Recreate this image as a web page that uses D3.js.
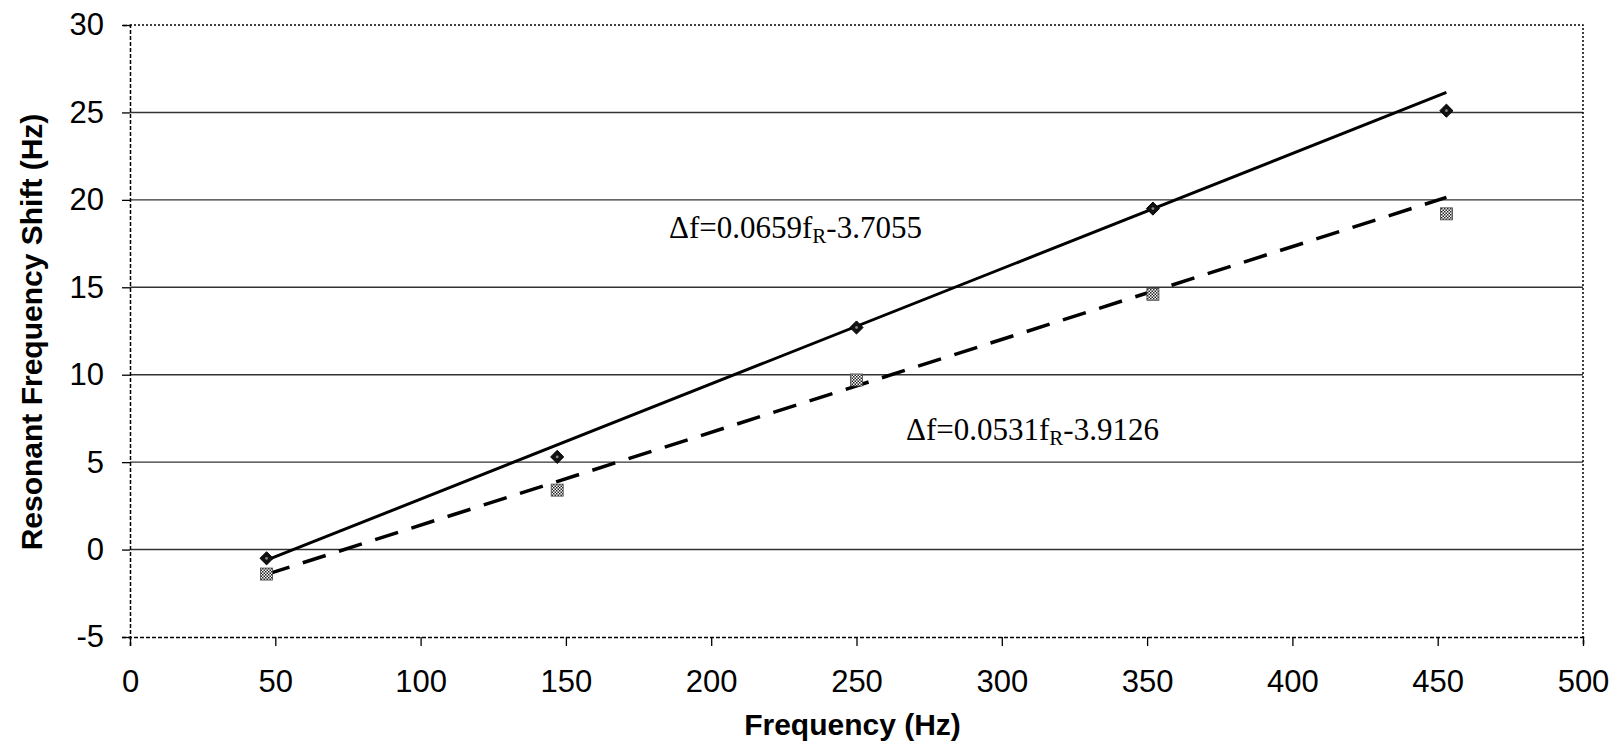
<!DOCTYPE html>
<html>
<head>
<meta charset="utf-8">
<script src="https://cdn.jsdelivr.net/npm/d3@7"></script>
<style>
  body { margin: 0; background: #fff; }
  .tick text { font-family: "Liberation Sans", Arial, sans-serif; font-size: 31px; fill: #000; }
  .axis-title { font-family: "Liberation Sans", Arial, sans-serif; font-size: 30px; font-weight: bold; }
  .eq { font-family: "Liberation Serif", "Times New Roman", serif; font-size: 31px; }
</style>
</head>
<body>
<svg id="chart" width="1621" height="746"></svg>
<script>
// measured data
const freqs = [47, 147, 250, 352, 453];
const shiftA = [-0.5, 5.3, 12.7, 19.5, 25.1];
const shiftB = [-1.4, 3.4, 9.7, 14.6, 19.2];

// trend line coefficients (slope, intercept) as printed on chart
const trendA = [0.0659, -3.7055];
const trendB = [0.0531, -3.9126];
const trendRange = [47, 453];

const xTicks = [0, 50, 100, 150, 200, 250, 300, 350, 400, 450, 500];
const yTicks = [-5, 0, 5, 10, 15, 20, 25, 30];

const margin = { left: 130, right: 38, top: 25, bottom: 109 };
const width = 1621, height = 746;
const chart_width = width - margin.left - margin.right;
const chart_height = height - margin.top - margin.bottom;

const svg = d3.select("#chart");

const defs = svg.append("defs");
const pat = defs.append("pattern")
  .attr("id", "check")
  .attr("width", 3).attr("height", 3)
  .attr("patternUnits", "userSpaceOnUse");
pat.append("rect").attr("width", 3).attr("height", 3).attr("fill", "#fff");
pat.append("rect").attr("width", 1.5).attr("height", 1.5).attr("fill", "#222");
pat.append("rect").attr("x", 1.5).attr("y", 1.5).attr("width", 1.5).attr("height", 1.5).attr("fill", "#222");

const g = svg.append("g")
  .attr("transform", "translate(" + margin.left + "," + margin.top + ")");

const xScale = d3.scaleLinear().domain([0, 500]).range([0, chart_width]);
const yScale = d3.scaleLinear().domain([-5, 30]).range([chart_height, 0]);

// grid lines
g.append("g")
  .selectAll("line")
  .data(yTicks.filter(d => d > -5 && d < 30))
  .join("line")
  .attr("x1", 0).attr("x2", chart_width)
  .attr("y1", d => yScale(d)).attr("y2", d => yScale(d))
  .attr("stroke", "#333").attr("stroke-width", 1.4);

// dotted frame top/right
g.append("path")
  .attr("d", "M0," + yScale(30) + "H" + chart_width + "V" + chart_height)
  .attr("fill", "none").attr("stroke", "#000")
  .attr("stroke-width", 1.5).attr("stroke-dasharray", "2,2");

// axes
const fmt = d => String(d); // plain hyphen for negatives
const xAxis = g.append("g")
  .attr("transform", "translate(0," + chart_height + ")")
  .call(d3.axisBottom(xScale).tickValues(xTicks).tickSize(9).tickPadding(18).tickFormat(fmt));
const yAxis = g.append("g")
  .call(d3.axisLeft(yScale).tickValues(yTicks).tickSize(8).tickPadding(18).tickFormat(fmt));

[xAxis, yAxis].forEach(a => {
  a.select(".domain").attr("stroke", "#000").attr("stroke-width", 1.5).attr("stroke-dasharray", "4,2");
  a.selectAll(".tick line").attr("stroke", "#000").attr("stroke-width", 1.3);
});
xAxis.selectAll(".tick text").attr("dy", "0.9em");

// trend lines
function trend(c) {
  return trendRange.map(x => ({ x: x, y: c[0] * x + c[1] }));
}
const line = d3.line().x(d => xScale(d.x)).y(d => yScale(d.y));

g.append("path")
  .datum(trend(trendA))
  .attr("d", line)
  .attr("fill", "none").attr("stroke", "#000").attr("stroke-width", 3);

g.append("path")
  .datum(trend(trendB))
  .attr("d", line)
  .attr("fill", "none").attr("stroke", "#000").attr("stroke-width", 3.5)
  .attr("stroke-dasharray", "24,14");

// markers
const ptsA = freqs.map((f, i) => ({ x: f, y: shiftA[i] }));
const ptsB = freqs.map((f, i) => ({ x: f, y: shiftB[i] }));

const dia = g.append("g").selectAll("g").data(ptsA).join("g")
  .attr("transform", d => "translate(" + xScale(d.x) + "," + yScale(d.y) + ")");
dia.append("path")
  .attr("d", d3.symbol(d3.symbolDiamond2, 110))
  .attr("fill", "#111").attr("stroke", "#000").attr("stroke-width", 1);
dia.append("circle").attr("r", 1.4).attr("fill", "#888");

g.append("g").selectAll("rect").data(ptsB).join("rect")
  .attr("x", d => xScale(d.x) - 6)
  .attr("y", d => yScale(d.y) - 6)
  .attr("width", 12).attr("height", 12)
  .attr("fill", "url(#check)").attr("stroke", "#444").attr("stroke-width", 0.8);

// equations
function eq(x, y, a, b) {
  const t = svg.append("text").attr("class", "eq").attr("x", x).attr("y", y);
  t.append("tspan").text("\u0394f=" + a + "f");
  t.append("tspan").attr("font-size", 21).attr("dy", 5).text("R");
  t.append("tspan").attr("dy", -5).text("-" + b);
}
eq(669, 238, trendA[0].toFixed(4), Math.abs(trendA[1]).toFixed(4));
eq(906, 440, trendB[0].toFixed(4), Math.abs(trendB[1]).toFixed(4));

// axis titles
svg.append("text").attr("class", "axis-title")
  .attr("x", margin.left + chart_width / 2 - 4).attr("y", 735)
  .attr("text-anchor", "middle").text("Frequency (Hz)");

svg.append("text").attr("class", "axis-title")
  .attr("transform", "translate(42," + 332 + ") rotate(-90)")
  .attr("text-anchor", "middle").text("Resonant Frequency Shift (Hz)");
</script>
</body>
</html>
